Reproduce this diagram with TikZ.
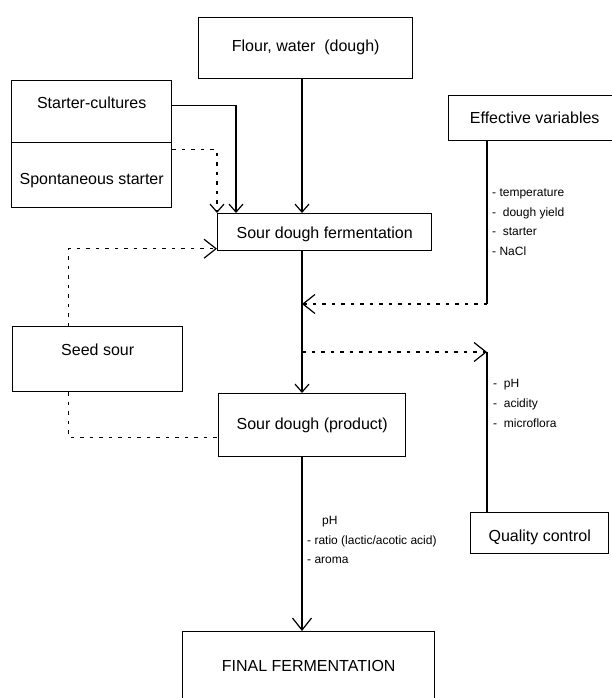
\documentclass[tikz,border=0pt]{standalone}
\usepackage{fontspec}
\setmainfont{Liberation Sans}
\usetikzlibrary{arrows.meta, positioning}

\begin{document}
\begin{tikzpicture}[
            x=1pt, y=-1pt,
            box/.style={draw, line width=1.4pt, inner sep=0pt, anchor=north west,
                        font=\fontsize{16}{18}\selectfont},
            note/.style={anchor=west, inner sep=0pt, font=\fontsize{12}{14}\selectfont},
            plain/.style={line width=1.2pt},
            flow/.style={plain, -{Straight Barb[length=12pt,width=19pt]}},
            small/.style={plain, -{Straight Barb[length=8pt,width=14pt]}},
            feed/.style={flow, dash pattern=on 3.5pt off 6pt},
            link/.style={plain, dash pattern=on 3.5pt off 6pt}]
            \clip (0,0) rectangle (612,698);
            \coordinate (axis) at (302,0);

            % boxes
            \node [box, minimum width=214pt, text height=34pt, text depth=27pt] (flour) at (198,17) {Flour, water\ \ (dough)};
            \node [box, minimum width=160pt, text height=28pt, text depth=34pt] (cultures) at (11,80) {Starter-cultures};
            \node [box, minimum width=160pt, text height=42pt, text depth=23pt] (spont) at (11,142) {Spontaneous starter};
            \node [box, minimum width=172pt, text height=28pt, text depth=17pt] (effective) at (448,95) {Effective variables};
            \node [box, minimum width=214pt, text height=25pt, text depth=12pt] (ferment) at (217,213) {Sour dough fermentation};
            \node [box, minimum width=170pt, text height=29pt, text depth=36pt] (seed) at (12,326) {Seed sour};
            \node [box, minimum width=187pt, text height=36pt, text depth=27pt] (product) at (218,393) {Sour dough (product)};
            \node [box, minimum width=138pt, text height=29pt, text depth=12pt] (quality) at (470,512) {Quality control};
            \node [box, minimum width=252pt, text height=40pt, text depth=34pt] (final) at (182,631) {FINAL FERMENTATION};

            % notes
            \node [note] (temp) at (492,194) {- temperature};
            \node [note] (yield) at (492,213) {-\ \ dough yield};
            \node [note] (starter) at (492,232) {-\ \ starter};
            \node [note] (nacl) at (492,251) {- NaCl};
            \node [note] (qph) at (493,385) {-\ \ pH};
            \node [note] (acid) at (493,404) {-\ \ acidity};
            \node [note] (flora) at (493,423) {-\ \ microflora};
            \node [note] (pph) at (322,522) {pH};
            \node [note] (ratio) at (307,541) {- ratio (lactic/acotic acid)};
            \node [note] (aroma) at (307,560) {- aroma};

            % connectors
            \draw [small] (flour.south -| axis) -- (ferment.north -| axis);
            \draw [small] ([yshift=6pt]cultures.east) -| ([xshift=19pt]ferment.north west);
            \draw [small, dash pattern=on 3.5pt off 6pt] ([yshift=25.5pt]spont.east) -| (ferment.north west);
            \draw [feed] ([xshift=-29pt]seed.north) |- ([yshift=-16.5pt]ferment.west);
            \draw [link] ([xshift=-29pt]seed.south) |- ([yshift=-12.5pt]product.west);
            \draw [small] (ferment.south -| axis) -- (product.north -| axis);

            \coordinate (evturn) at (487,304);
            \draw [plain] (effective.south -| evturn) -- (evturn);
            \draw [feed] (evturn) -- (evturn -| axis);

            \coordinate (qcturn) at (487,352);
            \draw [feed] (qcturn -| axis) -- (qcturn);
            \draw [plain] (qcturn) -- (qcturn |- quality.north);

            \draw [flow] (product.south -| axis) -- (final.north -| axis);
        \end{tikzpicture}
\end{document}
